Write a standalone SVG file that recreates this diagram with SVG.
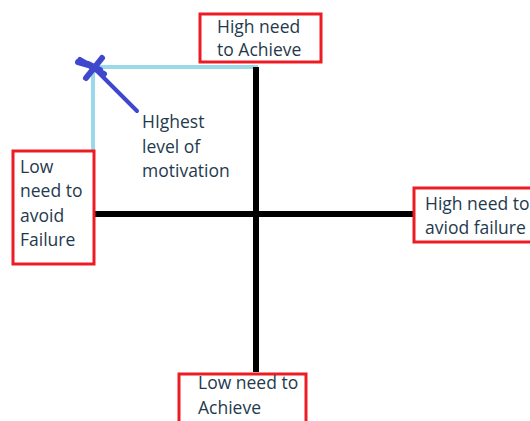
<svg xmlns="http://www.w3.org/2000/svg" width="530" height="421" viewBox="0 0 530 421">
<style>
.box{fill:#fff;stroke:#ed1c24;stroke-width:3}
.t{font-family:"Open Sans","Liberation Sans",Arial,sans-serif;font-size:17.5px;fill:#1f3a4d}
.ax{stroke:#000;stroke-width:6;fill:none}
.lb{stroke:#99d9ea;stroke-width:4;fill:none}
</style>
<rect width="530" height="421" fill="#fff"/>
<g id="connectors">
<path class="lb" d="M93 67 H258"/>
<path class="lb" d="M93 67 V213"/>
<path class="ax" d="M256 67 V372"/>
<path class="ax" d="M95 214 H414"/>
<g stroke="#3f48cc" stroke-linecap="round" fill="none">
<path d="M94 68 L137 111" stroke-width="4"/>
<path d="M80 60 L104 74 M102 58 L86 78 M78 62 L92 66 M88 64 L100 70" stroke-width="6"/>
</g>
</g>
<g id="top">
<rect class="box" x="200" y="14" width="121" height="48"/>
<text class="t" x="217" y="33">High need</text>
<text class="t" x="217" y="56">to Achieve</text>
</g>
<g id="left">
<rect class="box" x="13" y="151" width="81" height="113"/>
<text class="t" x="20" y="173">Low</text>
<text class="t" x="20" y="197">need to</text>
<text class="t" x="20" y="222">avoid</text>
<text class="t" x="20" y="246">Failure</text>
</g>
<g id="right">
<rect class="box" x="414" y="188" width="130" height="54"/>
<text class="t" x="425" y="210">High need to</text>
<text class="t" x="425" y="234">aviod failure</text>
</g>
<g id="bottom">
<rect class="box" x="179" y="374" width="127" height="60"/>
<text class="t" x="198" y="389">Low need to</text>
<text class="t" x="198" y="414">Achieve</text>
</g>
<g id="note">
<text class="t" x="142" y="128">HIghest</text>
<text class="t" x="142" y="153">level of</text>
<text class="t" x="142" y="177">motivation</text>
</g>
</svg>
